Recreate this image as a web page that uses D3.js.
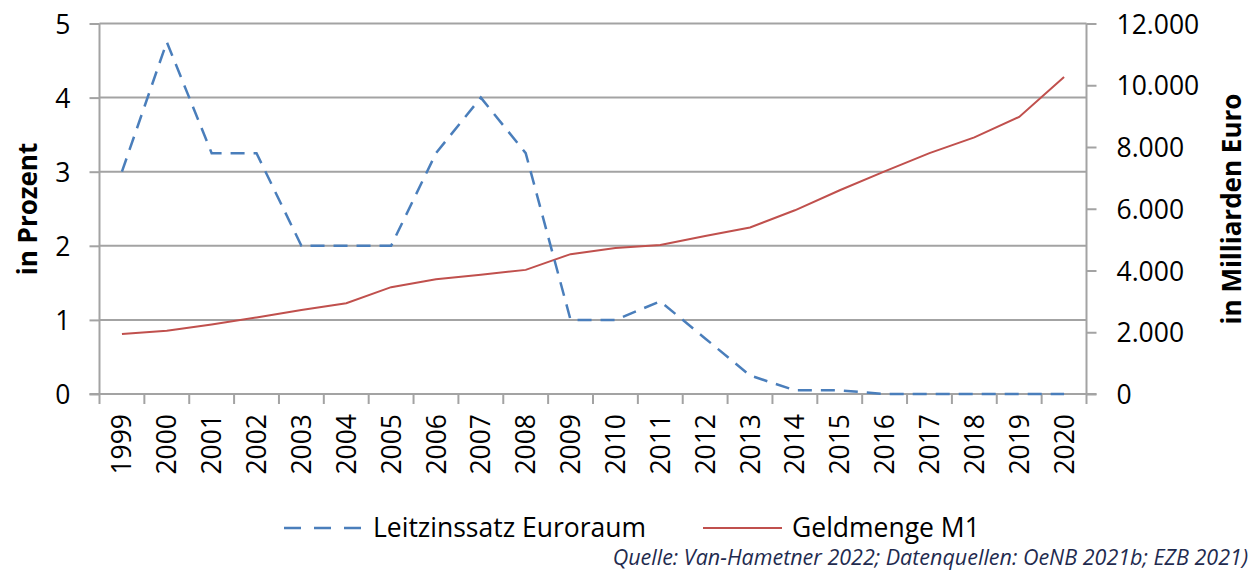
<!DOCTYPE html>
<html><head><meta charset="utf-8">
<script src="https://cdn.jsdelivr.net/npm/d3@7"></script>
<style>
html,body{margin:0;padding:0;background:#fff;}
svg text{font-family:"Open Sans",sans-serif;fill:#000;}
</style></head>
<body><svg id="c" width="1250" height="570"></svg>
<script>
const years = ["1999","2000","2001","2002","2003","2004","2005","2006","2007","2008","2009","2010","2011","2012","2013","2014","2015","2016","2017","2018","2019","2020"];
const leitzins = [3.0,4.75,3.25,3.25,2.0,2.0,2.0,3.25,4.0,3.25,1.0,1.0,1.25,0.75,0.25,0.05,0.05,0,0,0,0,0];
const m1 = [1940,2045,2250,2480,2720,2940,3460,3720,3860,4020,4530,4725,4825,5115,5395,5950,6600,7210,7800,8310,8975,10270];
const leftTicks = [0,1,2,3,4,5];
const rightTicks = [0,2000,4000,6000,8000,10000,12000];
const seriesNames = ["Leitzinssatz Euroraum","Geldmenge M1"];
const sourceText = "Quelle: Van-Hametner 2022; Datenquellen: OeNB 2021b; EZB 2021)";

const svg = d3.select("#c");
const L = 99.5, R = 1086.5, T = 23.5, B = 394;
const grey = "#a3a3a3";
const x = d3.scaleBand().domain(years).range([L, R]);
const yL = d3.scaleLinear().domain([0,5]).range([B, T]);
const yR = d3.scaleLinear().domain([0,12000]).range([B, T]);
const fs = 26.5;
const deFmt = d3.formatLocale({decimal:",",thousands:".",grouping:[3],currency:["","€"]}).format(",");

// gridlines
svg.append("g").selectAll("line").data(leftTicks.filter(d=>d>0)).join("line")
  .attr("x1", L).attr("x2", R).attr("y1", d=>yL(d)).attr("y2", d=>yL(d))
  .attr("stroke", grey).attr("stroke-width", 2);

// left axis
const gl = svg.append("g").attr("transform", `translate(${L},0)`)
  .call(d3.axisLeft(yL).tickValues(leftTicks).tickSize(10).tickPadding(19).tickFormat(d3.format("d")));
// right axis
const gr = svg.append("g").attr("transform", `translate(${R},0)`)
  .call(d3.axisRight(yR).tickValues(rightTicks).tickSize(10).tickPadding(20).tickFormat(d => deFmt(d)));
// bottom axis
const gb = svg.append("g").attr("transform", `translate(0,${B})`)
  .call(d3.axisBottom(x).tickSize(0).tickPadding(0));
// boundary ticks
svg.append("g").selectAll("line").data(d3.range(years.length+1)).join("line")
  .attr("x1", i => L + i*x.step()).attr("x2", i => L + i*x.step())
  .attr("y1", B).attr("y2", B+10).attr("stroke", grey).attr("stroke-width", 2);

[gl, gr, gb].forEach(g => {
  g.select(".domain").attr("stroke", grey).attr("stroke-width", 2);
  g.selectAll(".tick line").attr("stroke", grey).attr("stroke-width", 2);
  g.selectAll("text").style("font-size", fs+"px").attr("fill", "#000");
});
gl.select(".domain").attr("d", `M0,${B}V${T}`);
gr.select(".domain").attr("d", `M0,${B}V${T}`);
gb.select(".domain").attr("d", `M${L-10},0H${R+10}`);
gl.selectAll(".tick text").attr("dy", "0.36em");
gr.selectAll(".tick text").attr("dy", "0.36em");
gb.selectAll(".tick text")
  .attr("transform", "rotate(-90)")
  .attr("text-anchor", "end")
  .attr("x", -20).attr("y", 0).attr("dy", "0.36em");

// lines
const lineL = d3.line().x((d,i)=>x(years[i])+x.bandwidth()/2).y(d=>yL(d));
const lineR = d3.line().x((d,i)=>x(years[i])+x.bandwidth()/2).y(d=>yR(d));
svg.append("path").datum(m1).attr("d", lineR)
  .attr("fill","none").attr("stroke","#c0504d").attr("stroke-width",2);
svg.append("path").datum(leitzins).attr("d", lineL)
  .attr("fill","none").attr("stroke","#4a7ebb").attr("stroke-width",2.5)
  .attr("stroke-dasharray","14,9");

// axis titles
svg.append("text").attr("transform","translate(37,209) rotate(-90)")
  .attr("text-anchor","middle").style("font-size","26px").style("font-weight","bold").text("in Prozent");
svg.append("text").attr("transform","translate(1241,209) rotate(-90)")
  .attr("text-anchor","middle").style("font-size","26px").style("font-weight","bold").text("in Milliarden Euro");

// legend
const ly = 527;
svg.append("line").attr("x1",284).attr("x2",363).attr("y1",ly+1).attr("y2",ly+1)
  .attr("stroke","#4a7ebb").attr("stroke-width",2.5).attr("stroke-dasharray","17,13");
svg.append("text").attr("x",373).attr("y",ly).attr("dy","0.36em").style("font-size",fs+"px").text(seriesNames[0]);
svg.append("line").attr("x1",703).attr("x2",782).attr("y1",ly+1).attr("y2",ly+1)
  .attr("stroke","#c0504d").attr("stroke-width",2);
svg.append("text").attr("x",792).attr("y",ly).attr("dy","0.36em").style("font-size",fs+"px").text(seriesNames[1]);

// source
svg.append("text").attr("x",1248).attr("y",565).attr("text-anchor","end")
  .style("font-size","21.5px").style("font-style","italic").style("fill","#1f2b4f").text(sourceText);
</script></body></html>
